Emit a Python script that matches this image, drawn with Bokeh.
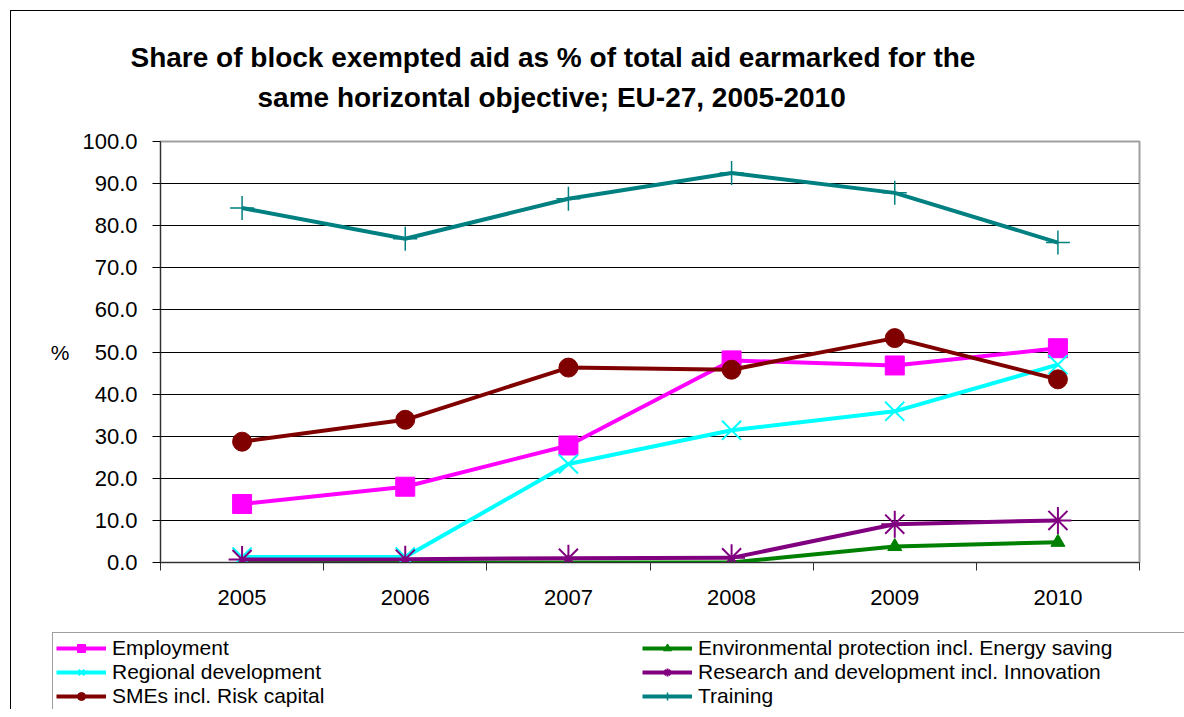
from bokeh.plotting import figure
from bokeh.layouts import column
from bokeh.models import (FixedTicker, NumeralTickFormatter, Legend, LegendItem, Range1d, Title)
from bokeh.embed import file_html
from bokeh.resources import INLINE

years = ["2005", "2006", "2007", "2008", "2009", "2010"]
employment = [13.9, 18.0, 27.8, 48.0, 46.8, 50.9]
environmental = [0.0, 0.0, 0.0, 0.0, 3.8, 4.8]
regional = [1.3, 1.3, 23.4, 31.4, 35.9, 47.0]
research = [0.7, 0.8, 1.0, 1.1, 9.1, 10.0]
smes = [28.7, 33.9, 46.3, 45.8, 53.3, 43.5]
training = [84.2, 76.9, 86.4, 92.5, 87.8, 76.0]

series_names = ["Employment", "Environmental protection incl. Energy saving",
                "Regional development", "Research and development incl. Innovation",
                "SMEs incl. Risk capital", "Training"]
series_values = [employment, environmental, regional, research, smes, training]
colors = ["#FF00FF", "#008000", "#00FFFF", "#800080", "#800000", "#008080"]
markers = ["square", "triangle", "x", "asterisk", "circle", "cross"]
msizes = [19, 14, 27, 27, 19, 24]
mwidths = [1, 1, 2, 2, 1, 1.5]

FONT = "Liberation Sans"

x = [i + 0.5 for i in range(len(years))]

W = 1173
p = figure(width=W, height=614, output_backend="svg", toolbar_location=None,
           x_range=Range1d(0, len(years)), y_range=Range1d(0, 100),
           min_border_left=149, min_border_right=45, min_border_top=130,
           min_border_bottom=63)
p.background_fill_color = "white"
p.border_fill_color = "white"
p.outline_line_color = "#A0A0A0"
p.outline_line_width = 2

# axes
p.yaxis.ticker = FixedTicker(ticks=list(range(0, 101, 10)))
p.yaxis.formatter = NumeralTickFormatter(format="0.0")
p.yaxis.major_tick_out = 8
p.yaxis.major_tick_in = 0
p.yaxis.minor_tick_line_color = None
p.yaxis.axis_line_color = "#303030"
p.yaxis.major_tick_line_color = "black"
p.yaxis.major_label_text_font = FONT
p.yaxis.major_label_text_font_size = "22px"
p.yaxis.major_label_text_color = "black"
p.yaxis.major_label_standoff = 15
p.yaxis.axis_label = "%"
p.yaxis.axis_label_orientation = "horizontal"
p.yaxis.axis_label_text_font = FONT
p.yaxis.axis_label_text_font_size = "21px"
p.yaxis.axis_label_text_font_style = "normal"
p.yaxis.axis_label_text_color = "black"
p.yaxis.axis_label_standoff = 10

p.xaxis.ticker = FixedTicker(ticks=x, minor_ticks=list(range(0, len(years) + 1)))
p.xaxis.major_label_overrides = {xi: y for xi, y in zip(x, years)}
p.xaxis.major_tick_line_color = None
p.xaxis.minor_tick_line_color = "#303030"
p.xaxis.minor_tick_out = 8
p.xaxis.minor_tick_in = 0
p.xaxis.axis_line_color = "#303030"
p.xaxis.major_label_text_font = FONT
p.xaxis.major_label_text_font_size = "22px"
p.xaxis.major_label_text_color = "black"
p.xaxis.major_label_standoff = 19

p.xgrid.grid_line_color = None
p.ygrid.ticker = FixedTicker(ticks=list(range(10, 100, 10)))
p.ygrid.grid_line_color = "black"
p.ygrid.grid_line_width = 1

for vals, c, m, s, w in zip(series_values, colors, markers, msizes, mwidths):
    p.line(x, vals, line_color=c, line_width=4)
    p.scatter(x, vals, marker=m, size=s, fill_color=c, line_color=c, line_width=w)

# title lines (first added is closest to the frame)
spacer = Title(text=" ", text_font_size="1px", standoff=19)
t2 = Title(text="same horizontal objective; EU-27, 2005-2010", align="left", offset=97,
           text_font=FONT, text_font_size="28px", text_font_style="bold",
           text_color="black", standoff=14)
t1 = Title(text="Share of block exempted aid as % of total aid earmarked for the",
           align="left", offset=-30, text_font=FONT, text_font_size="28px",
           text_font_style="bold", text_color="black", standoff=0)
p.add_layout(spacer, "above")
p.add_layout(t2, "above")
p.add_layout(t1, "above")

# legend strip: same series, kept out of view, only their legend is shown
q = figure(width=W, height=84, output_backend="svg", toolbar_location=None,
           x_range=Range1d(0, len(years)), y_range=Range1d(1000, 1001),
           x_axis_type=None, y_axis_type=None,
           min_border_left=0, min_border_right=0, min_border_top=0, min_border_bottom=0)
q.outline_line_color = None
q.grid.grid_line_color = None
q.border_fill_color = "white"
by_name = {}
for name, vals, c, m, s, w in zip(series_names, series_values, colors, markers, msizes, mwidths):
    lr = q.line(x, vals, line_color=c, line_width=4)
    sr = q.scatter(x, vals, marker=m, size=s * 0.8, fill_color=c, line_color=c, line_width=w)
    by_name[name] = LegendItem(label=name, renderers=[lr, sr])
# column-major fill: first column gets items 0,2,4; second 1,3,5
order = series_names[0::2] + series_names[1::2]
items = [by_name[n] for n in order]

legend = Legend(items=items, ncols=2, location=(41, -3),
                label_text_font=FONT, label_text_font_size="21px",
                label_text_color="black", glyph_width=50, glyph_height=20,
                label_height=20, label_width=530, label_standoff=6,
                spacing=0, padding=3, margin=0,
                border_line_color="#404040", border_line_width=1,
                background_fill_alpha=1.0)
q.add_layout(legend, "center")

layout = column(p, column(q), spacing=0,
                styles={"margin-left": "10px", "margin-top": "10px",
                        "border-left": "1px solid black", "border-top": "1px solid black"})

open("out.html", "w").write(file_html(layout, INLINE))
